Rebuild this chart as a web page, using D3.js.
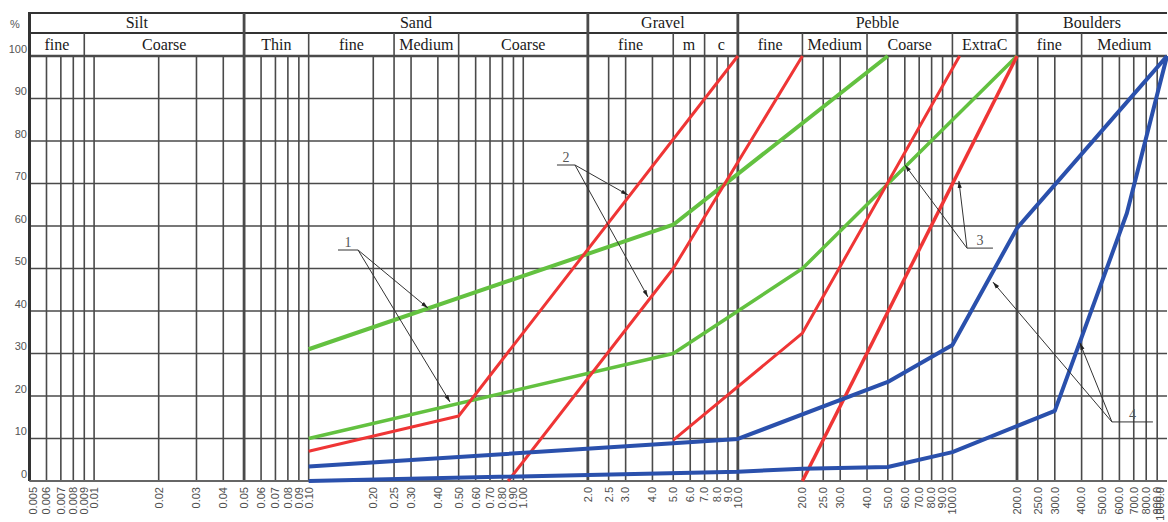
<!DOCTYPE html>
<html>
<head>
<meta charset="utf-8">
<script src="https://cdn.jsdelivr.net/npm/d3@7"></script>
<style>
    body { margin: 0; background: #fff; }
    svg { display: block; }
</style>
</head>
<body>
<svg id="chart" width="1168" height="522"></svg>
<script>
// Classes granulometriques (mm)
const classNames = ["Silt", "Sand", "Gravel", "Pebble", "Boulders"];
const classBounds = [0.005, 0.05, 2, 10, 200, 1000];
const subNames = ["fine", "Coarse", "Thin", "fine", "Medium", "Coarse", "fine", "m", "c",
    "fine", "Medium", "Coarse", "ExtraC", "fine", "Medium"];
const subBounds = [0.005, 0.009, 0.05, 0.1, 0.25, 0.5, 2, 5, 7, 10, 20, 40, 100, 200, 400, 1000];

// Graduations
const sizeTicks = [0.005, 0.006, 0.007, 0.008, 0.009, 0.01, 0.02, 0.03, 0.04, 0.05, 0.06, 0.07, 0.08, 0.09,
    0.1, 0.2, 0.25, 0.3, 0.4, 0.5, 0.6, 0.7, 0.8, 0.9, 1, 2, 2.5, 3, 4, 5, 6, 7, 8, 9,
    10, 20, 25, 30, 40, 50, 60, 70, 80, 90, 100, 200, 250, 300, 400, 500, 600, 700, 800, 900, 1000];
const sizeLabels = ["0.005", "0.006", "0.007", "0.008", "0.009", "0.01", "0.02", "0.03", "0.04", "0.05",
    "0.06", "0.07", "0.08", "0.09", "0.10", "0.20", "0.25", "0.30", "0.40", "0.50", "0.60", "0.70",
    "0.80", "0.90", "1.00", "2.0", "2.5", "3.0", "4.0", "5.0", "6.0", "7.0", "8.0", "9.0", "10.0",
    "20.0", "25.0", "30.0", "40.0", "50.0", "60.0", "70.0", "80.0", "90.0", "100.0", "200.0",
    "250.0", "300.0", "400.0", "500.0", "600.0", "700.0", "800.0", "900.0", "1000.0"];
const pctTicks = [0, 10, 20, 30, 40, 50, 60, 70, 80, 90, 100];

// Courbes : [taille mm, % cumule]
const green1 = [[0.1, 31], [5, 60.3], [50, 100]];
const green2 = [[0.1, 10], [5, 30], [20, 50], [200, 100]];
const red1 = [[0.1, 7], [0.5, 15.3], [10, 100]];
const red2 = [[0.85, 0], [5, 50], [20, 100]];
const red3 = [[5, 9.6], [20, 34.8], [108, 100]];
const red4 = [[20, 0], [200, 100]];
const blue1 = [[0.1, 3.4], [5, 8.9], [10, 9.9], [50, 23.3], [100, 32], [200, 59.5], [1000, 100]];
const blue2 = [[0.1, 0], [10, 2.2], [20, 2.9], [50, 3.3], [100, 6.8], [300, 16.5], [650, 63], [1000, 100]];

// Renvois numerotes
const noteLabels = ["1", "2", "3", "4"];
const noteKnees = [[0.1698, 54.35], [1.742, 74.35], [116.9, 54.8], [553.7, 13.9]];
const noteShelfEnds = [[0.137, 54.35], [1.436, 74.35], [154.5, 54.8], [859.8, 13.9]];
const noteTips = [
    [[0.3595, 40.7], [0.4556, 18.6]],
    [[3.075, 67.3], [3.81, 43.3]],
    [[60.1, 74.35], [107.2, 70.6]],
    [[154.5, 46.8], [392.6, 32.5]]
];

const headTop = 13, headMid = 33;

const x = d3.scaleLog().domain([0.005, 1000]).range([29.5, 1167]);
const y = d3.scaleLinear().domain([0, 100]).range([481, 56]);

const svg = d3.select("#chart");

// Fleches
svg.append("defs").append("marker")
    .attr("id", "tip")
    .attr("viewBox", "0 0 10 10")
    .attr("refX", 10)
    .attr("refY", 5)
    .attr("markerWidth", 7)
    .attr("markerHeight", 7)
    .attr("orient", "auto")
    .append("path")
    .attr("d", "M0,2L10,5L0,8Z")
    .attr("fill", "#222");

// Grille verticale
svg.append("g").selectAll("line")
    .data(sizeTicks.slice(1, -1))
    .enter()
    .append("line")
    .attr("x1", d => x(d))
    .attr("x2", d => x(d))
    .attr("y1", y(100))
    .attr("y2", y(0))
    .attr("stroke", "#4a4a4a")
    .attr("stroke-width", d => classBounds.includes(d) ? 2.8 : 1.6);

// Grille horizontale
svg.append("g").selectAll("line")
    .data(pctTicks)
    .enter()
    .append("line")
    .attr("x1", x(0.005))
    .attr("x2", x(1000))
    .attr("y1", d => y(d))
    .attr("y2", d => y(d))
    .attr("stroke", "#4a4a4a")
    .attr("stroke-width", d => d === 100 ? 2.4 : 1.6);

// En-tete
svg.append("line")
    .attr("x1", x(0.005)).attr("x2", x(1000))
    .attr("y1", headTop).attr("y2", headTop)
    .attr("stroke", "#333").attr("stroke-width", 2.2);
svg.append("line")
    .attr("x1", x(0.005)).attr("x2", x(1000))
    .attr("y1", headMid).attr("y2", headMid)
    .attr("stroke", "#333").attr("stroke-width", 2.2);

svg.append("g").selectAll("line")
    .data(classBounds.slice(1, -1))
    .enter()
    .append("line")
    .attr("x1", d => x(d))
    .attr("x2", d => x(d))
    .attr("y1", headTop)
    .attr("y2", y(100))
    .attr("stroke", "#4a4a4a")
    .attr("stroke-width", 2.8);

svg.append("g").selectAll("line")
    .data(subBounds.slice(1, -1).filter(d => !classBounds.includes(d)))
    .enter()
    .append("line")
    .attr("x1", d => x(d))
    .attr("x2", d => x(d))
    .attr("y1", headMid)
    .attr("y2", y(100))
    .attr("stroke", "#4a4a4a")
    .attr("stroke-width", 1.6);

svg.append("g").selectAll("text")
    .data(classNames)
    .enter()
    .append("text")
    .attr("x", (d, i) => (x(classBounds[i]) + x(classBounds[i + 1])) / 2)
    .attr("y", 28)
    .attr("text-anchor", "middle")
    .style("font-family", "'Liberation Serif', serif")
    .style("font-size", "16px")
    .style("fill", "#1a1a1a")
    .text(d => d);

svg.append("g").selectAll("text")
    .data(subNames)
    .enter()
    .append("text")
    .attr("x", (d, i) => (x(subBounds[i]) + x(subBounds[i + 1])) / 2)
    .attr("y", 50)
    .attr("text-anchor", "middle")
    .style("font-family", "'Liberation Serif', serif")
    .style("font-size", "16px")
    .style("fill", "#1a1a1a")
    .text(d => d);

// Bordure gauche et axe du bas
svg.append("line")
    .attr("x1", x(0.005)).attr("x2", x(0.005))
    .attr("y1", headTop - 1).attr("y2", y(0))
    .attr("stroke", "#333").attr("stroke-width", 3);
svg.append("line")
    .attr("x1", x(0.005)).attr("x2", x(1000))
    .attr("y1", y(0)).attr("y2", y(0))
    .attr("stroke", "#666").attr("stroke-width", 2);

// Etiquettes %
svg.append("text")
    .attr("x", 15)
    .attr("y", 28)
    .attr("text-anchor", "middle")
    .style("font-family", "'Liberation Sans', sans-serif")
    .style("font-size", "11px")
    .style("fill", "#555")
    .text("%");

svg.append("g").selectAll("text")
    .data(pctTicks)
    .enter()
    .append("text")
    .attr("x", 27)
    .attr("y", d => y(d) - 6)
    .attr("text-anchor", "end")
    .attr("dominant-baseline", "middle")
    .style("font-family", "'Liberation Sans', sans-serif")
    .style("font-size", "11px")
    .style("fill", "#555")
    .text(d => d);

// Etiquettes tailles (verticales), gardees dans le cadre
svg.append("g").selectAll("text")
    .data(sizeTicks)
    .enter()
    .append("text")
    .attr("transform", d => "translate(" + Math.max(33, Math.min(1160, x(d))) + ",487) rotate(-90)")
    .attr("text-anchor", "end")
    .attr("dy", "0.35em")
    .style("font-family", "'Liberation Sans', sans-serif")
    .style("font-size", "11px")
    .style("fill", "#4d4d4d")
    .text((d, i) => sizeLabels[i]);

// Courbes
const line = d3.line()
    .x(d => x(d[0]))
    .y(d => y(d[1]));

const curves = [
    { pts: green1, color: "#63c140", w: 4 },
    { pts: green2, color: "#63c140", w: 3.5 },
    { pts: red1, color: "#ef3535", w: 3 },
    { pts: red2, color: "#ef3535", w: 3 },
    { pts: red3, color: "#ef3535", w: 3 },
    { pts: red4, color: "#ef3535", w: 3.5 },
    { pts: blue1, color: "#2a50ac", w: 4 },
    { pts: blue2, color: "#2a50ac", w: 4 }
];

svg.append("g").selectAll("path")
    .data(curves)
    .enter()
    .append("path")
    .attr("d", d => line(d.pts))
    .attr("fill", "none")
    .attr("stroke", d => d.color)
    .attr("stroke-width", d => d.w)
    .attr("stroke-linejoin", "round");

// Renvois
const notes = svg.append("g");
noteLabels.forEach((label, i) => {
    const k = noteKnees[i];
    const s = noteShelfEnds[i];
    notes.append("line")
        .attr("x1", x(s[0])).attr("y1", y(s[1]))
        .attr("x2", x(k[0])).attr("y2", y(k[1]))
        .attr("stroke", "#333").attr("stroke-width", 1);
    noteTips[i].forEach(t => {
        notes.append("line")
            .attr("x1", x(k[0])).attr("y1", y(k[1]))
            .attr("x2", x(t[0])).attr("y2", y(t[1]))
            .attr("stroke", "#333").attr("stroke-width", 1)
            .attr("marker-end", "url(#tip)");
    });
    notes.append("text")
        .attr("x", (x(k[0]) + x(s[0])) / 2)
        .attr("y", y(k[1]) - 3)
        .attr("text-anchor", "middle")
        .style("font-family", "'Liberation Serif', serif")
        .style("font-size", "14px")
        .style("fill", "#555")
        .text(label);
});
</script>
</body>
</html>
